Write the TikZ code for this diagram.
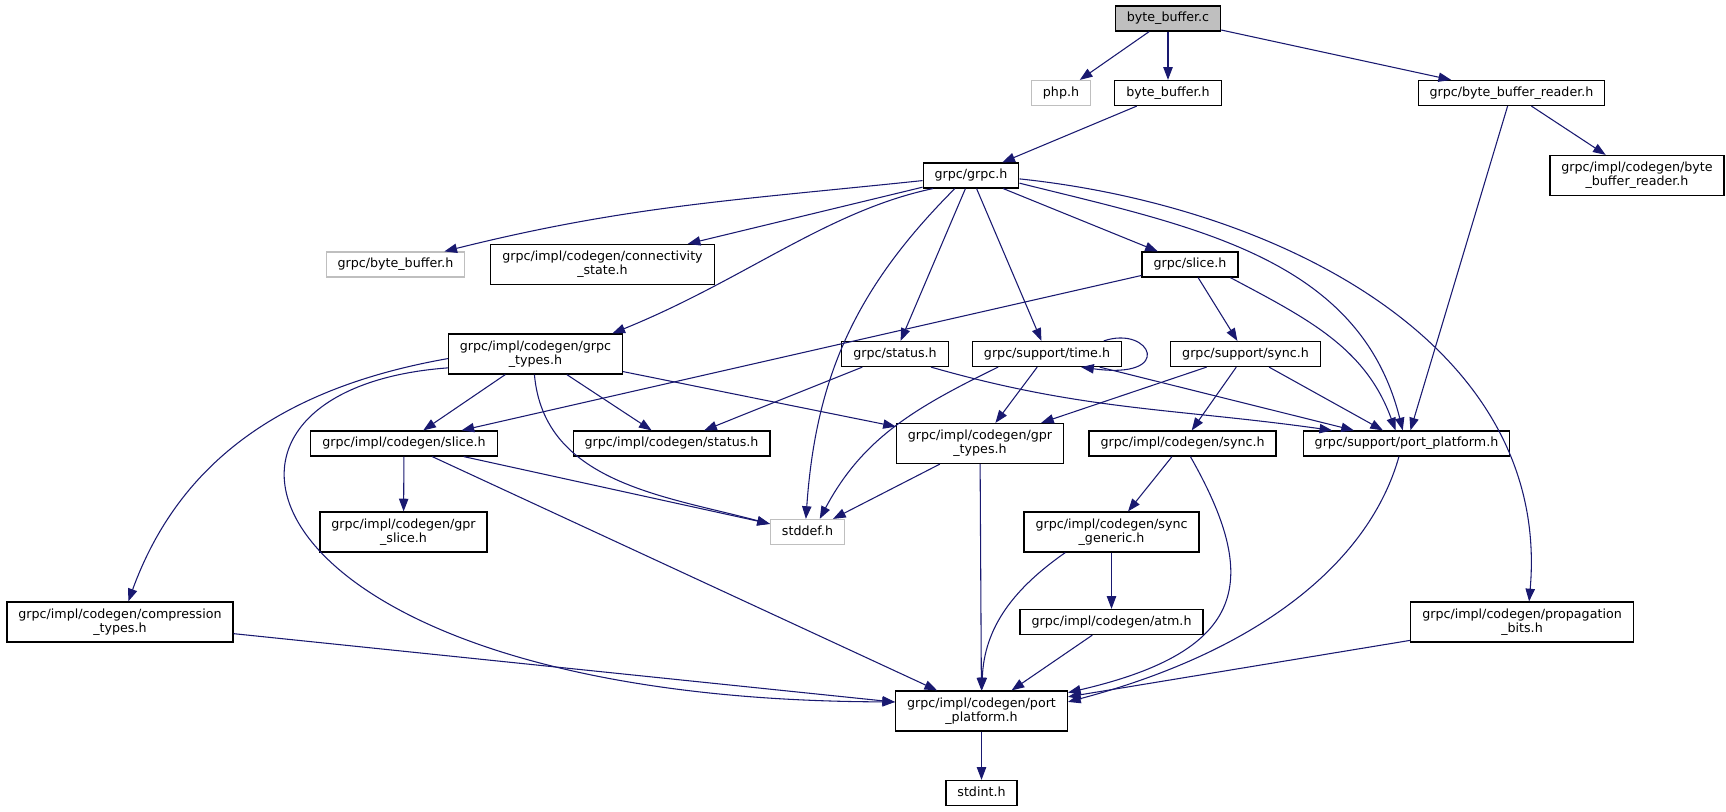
\documentclass[tikz,border=0pt]{standalone}
\usepackage{fontspec}
\setmainfont{DejaVu Sans}
\usepackage{tikz}
\usetikzlibrary{arrows.meta}

\definecolor{edgeblue}{RGB}{25,25,112}
\definecolor{grey75}{RGB}{191,191,191}

\begin{document}
\begin{tikzpicture}[x=0.75pt, y=0.75pt,
    every node/.style = {font=\fontsize{9.5}{10.5}\selectfont, inner xsep=8.6pt, inner ysep=0pt},
    box/.style = {draw=black, line width=0.9pt, fill=white, minimum height=18.75pt, text height=7pt, text depth=2.2pt},
    box2/.style = {draw=black, line width=0.9pt, fill=white, minimum height=30pt, align=center},
    extbox/.style = {box, draw=grey75},
    srcbox/.style = {box, fill=grey75},
    incl/.style = {draw=edgeblue, line width=0.8pt, -{Triangle[length=9.5pt, width=7pt]}}]
            \useasboundingbox (0,0) rectangle (1726,-812);
            % files
            \node[srcbox](bbc) at (1168,-18.5) {byte\_buffer.c};
            \node[extbox](php) at (1061,-93) {php.h};
            \node[box](bbh) at (1168,-93) {byte\_buffer.h};
            \node[box](bbr) at (1511.5,-93) {grpc/byte\_buffer\_reader.h};
            \node[box2](cbbr) at (1637,-175.5) {grpc/impl/codegen/byte\\\_buffer\_reader.h};
            \node[box](grpc) at (971,-175.5) {grpc/grpc.h};
            \node[extbox](gbb) at (395.5,-264.5) {grpc/byte\_buffer.h};
            \node[box2](conn) at (602.5,-264.5) {grpc/impl/codegen/connectivity\\\_state.h};
            \node[box](slice) at (1190,-264.5) {grpc/slice.h};
            \node[box2](types) at (535.5,-354) {grpc/impl/codegen/grpc\\\_types.h};
            \node[box](status) at (895,-354) {grpc/status.h};
            \node[box](time) at (1047,-354) {grpc/support/time.h};
            \node[box](ssync) at (1245.5,-354) {grpc/support/sync.h};
            \node[box](cslice) at (404,-443.5) {grpc/impl/codegen/slice.h};
            \node[box](cstatus) at (671.5,-443.5) {grpc/impl/codegen/status.h};
            \node[box2](gprtypes) at (980,-443.5) {grpc/impl/codegen/gpr\\\_types.h};
            \node[box](csync) at (1182.5,-443.5) {grpc/impl/codegen/sync.h};
            \node[box](spp) at (1406.5,-443.5) {grpc/support/port\_platform.h};
            \node[extbox](stddef) at (807.5,-532) {stddef.h};
            \node[box2](gprslice) at (403.5,-532) {grpc/impl/codegen/gpr\\\_slice.h};
            \node[box2](syncgen) at (1111.5,-532) {grpc/impl/codegen/sync\\\_generic.h};
            \node[box2](comp) at (120,-622) {grpc/impl/codegen/compression\\\_types.h};
            \node[box](atm) at (1111.5,-622) {grpc/impl/codegen/atm.h};
            \node[box2](prop) at (1522,-622) {grpc/impl/codegen/propagation\\\_bits.h};
            \node[box2](cpp) at (981.5,-711) {grpc/impl/codegen/port\\\_platform.h};
            \node[box](stdint) at (981.5,-793) {stdint.h};
            % includes
            \draw[incl] (bbc) -- (php);
            \draw[incl] (bbc) -- (bbh);
            \draw[incl] (bbc) -- (bbr);
            \draw[incl] (bbh) -- (grpc);
            \draw[incl] (bbr) -- (cbbr);
            \draw[incl] (bbr) -- (spp);
            \draw[incl] (grpc.186) to[out=186, in=14] (gbb.15);
            \draw[incl] (grpc) -- (conn);
            \draw[incl] (grpc.199) .. controls +(-105,-22) and +(131,53) .. (types.15);
            \draw[incl] (grpc.219) to[out=225, in=86] (stddef.97);
            \draw[incl] (grpc) -- (status);
            \draw[incl] (grpc) -- (time);
            \draw[incl] (grpc) -- (slice);
            \draw[incl] (grpc.-9) to[out=-14, in=104] (spp.106);
            \draw[incl] (grpc.-4) to[out=-6, in=85] (prop.71);
            \draw[incl] (slice) -- (cslice);
            \draw[incl] (slice) -- (ssync);
            \draw[incl] (slice.-18) to[out=-28, in=110] (spp.130);
            \draw[incl] (types.183) to[out=190, in=70] (comp.68);
            \draw[incl] (types.189) .. controls +(-299,-22) and +(-655,2) .. (cpp.174);
            \draw[incl] (types) -- (cslice);
            \draw[incl] (types.-93) to[out=-85, in=165] (stddef.168);
            \draw[incl] (types) -- (cstatus);
            \draw[incl] (types) -- (gprtypes);
            \draw[incl] (status) -- (cstatus);
            \draw[incl] (status.-20) to[out=-16, in=172] (spp.170);
            \draw[incl] (time.13) .. controls +(47,16) and +(95,-13) .. (time.-21);
            \draw[incl] (time.195) to[out=206, in=62] (stddef.47);
            \draw[incl] (time) -- (gprtypes);
            \draw[incl] (time) -- (spp);
            \draw[incl] (ssync) -- (gprtypes);
            \draw[incl] (ssync) -- (csync);
            \draw[incl] (ssync) -- (spp);
            \draw[incl] (cslice) -- (gprslice);
            \draw[incl] (cslice) -- (stddef);
            \draw[incl] (cslice) -- (cpp);
            \draw[incl] (gprtypes) -- (stddef);
            \draw[incl] (gprtypes) -- (cpp);
            \draw[incl] (csync) -- (syncgen);
            \draw[incl] (csync.-59) .. controls +(70,-123) and +(181,42) .. (cpp.12);
            \draw[incl] (spp.-120) .. controls +(-29,-103) and +(196,52) .. (cpp.6);
            \draw[incl] (syncgen) -- (atm);
            \draw[incl] (syncgen.204) to[out=215, in=88] (cpp.89);
            \draw[incl] (atm) -- (cpp);
            \draw[incl] (comp) -- (cpp);
            \draw[incl] (prop) -- (cpp);
            \draw[incl] (cpp) -- (stdint);
        \end{tikzpicture}
\end{document}
